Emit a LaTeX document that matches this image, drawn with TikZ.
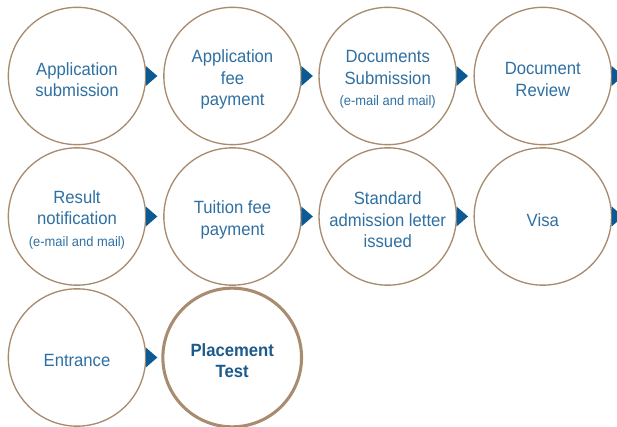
\documentclass[tikz,border=0pt]{standalone}
\usepackage{fontspec}
\newfontfamily\cond{Liberation Sans}[FakeStretch=0.94]
\definecolor{ring}{HTML}{A88C70}
\definecolor{txt}{HTML}{2F70A3}
\definecolor{txtb}{HTML}{1D5A8C}
\definecolor{tri}{HTML}{0B5A93}
\tikzset{
  stepcircle/.style={circle, draw=ring, line width=1pt, minimum size=103pt, inner sep=0pt},
  finalcircle/.style={stepcircle, line width=2.3pt, minimum size=104pt},
  steptext/.style={align=center, text=txt, inner sep=0pt, yshift=-2.6pt,
    font=\cond\fontsize{13.3}{16}\selectfont},
  finaltext/.style={steptext, text=txtb, font=\cond\bfseries\fontsize{13.3}{16}\selectfont},
  arrowtri/.style={fill=tri}
}
\newcommand{\smalltxt}[1]{{\fontsize{10.3}{12}\selectfont #1}}
\begin{document}
\begin{tikzpicture}[x=0.75pt,y=-0.75pt]
\clip (0,0) rectangle (617,427);
\fill[white] (0,0) rectangle (617,427);
% row 1
\node[stepcircle, label={[steptext]center:Application\\submission}] (c1) at (77,76) {};
\node[stepcircle, label={[steptext]center:Application\\fee\\payment}] (c2) at (232.5,76) {};
\node[stepcircle, label={[steptext]center:Documents\\Submission\\\smalltxt{(e-mail and mail)}}] (c3) at (387.7,76) {};
\node[stepcircle, label={[steptext]center:Document\\Review}] (c4) at (542.8,76) {};
% row 2
\node[stepcircle, label={[steptext]center:Result\\notification\\\smalltxt{(e-mail and mail)}}] (c5) at (77,216.5) {};
\node[stepcircle, label={[steptext]center:Tuition fee\\payment}] (c6) at (232.5,216.5) {};
\node[stepcircle, label={[steptext]center:Standard\\admission letter\\issued}] (c7) at (387.7,216.5) {};
\node[stepcircle, label={[steptext]center:Visa}] (c8) at (542.8,216.5) {};
% row 3
\node[stepcircle, label={[steptext]center:Entrance}] (c9) at (77,357.5) {};
\node[finalcircle, label={[finaltext]center:Placement\\Test}] (c10) at (232.2,357.5) {};
% arrow triangles
\foreach \n in {c1,c2,c3,c4,c5,c6,c7,c8,c9}{
  \fill[arrowtri] (\n.east) ++(-0.5,-10) -- ++(11.5,10) -- ++(-11.5,10) -- cycle;
}
\end{tikzpicture}
\end{document}
